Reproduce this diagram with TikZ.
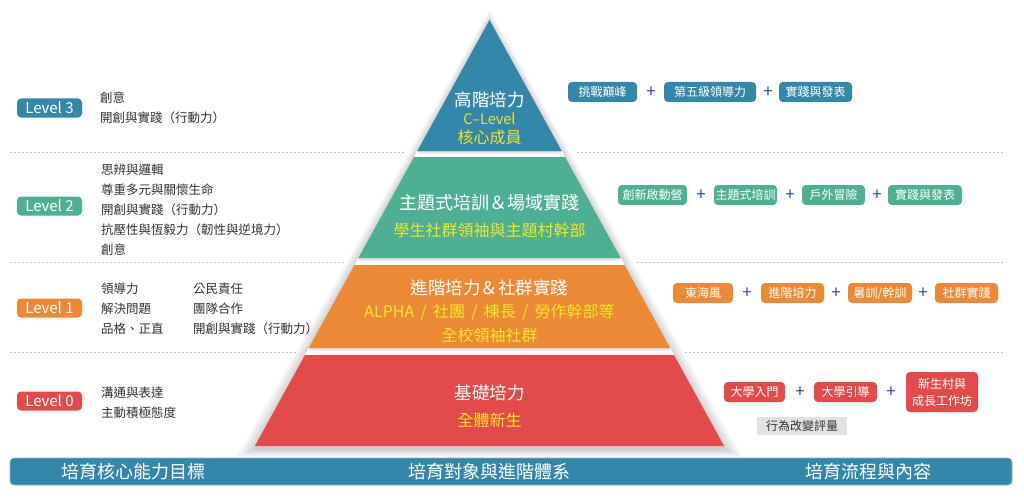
\documentclass[tikz,border=0pt]{standalone}
\usepackage{fontspec}
\setmainfont{Noto Sans CJK TC}
\definecolor{blueL}{HTML}{3487A8}
\definecolor{greenL}{HTML}{4EAF92}
\definecolor{orangeL}{HTML}{EC8936}
\definecolor{redL}{HTML}{E24A4B}
\definecolor{yellowT}{HTML}{F2E527}
\definecolor{plusC}{HTML}{2C4C9C}
\definecolor{txtC}{HTML}{333333}
\definecolor{grayBox}{HTML}{E2E2E2}
\begin{document}
\begin{tikzpicture}[x=1pt,y=-1pt,
  sep/.style={draw=black!25,line width=0.7pt,dash pattern=on 2pt off 2pt},
  gapshade/.style={top color=black!14,bottom color=white},
  badge/.style={fill=#1,rounded corners=4pt,text=white,minimum width=65pt,minimum height=19pt,inner sep=0pt,font=\fontsize{15}{16}\selectfont},
  lefttxt/.style={anchor=west,align=left,inner sep=0pt,text=txtC,font=\fontsize{12.5}{20}\selectfont},
  ttl/.style={text=white,inner sep=0pt,font=\fontsize{17.5}{20}\selectfont},
  sub/.style={text=yellowT,inner sep=0pt,font=\fontsize{16}{19}\selectfont},
  tag/.style={fill=#1,rounded corners=4pt,text=white,minimum height=20pt,inner sep=0pt,font=\fontsize{12}{15}\selectfont,align=center},
  plus/.style={text=plusC,inner sep=0pt,font=\fontsize{17}{18}\selectfont},
  bartxt/.style={text=white,inner sep=0pt,font=\fontsize{18}{20}\selectfont}]
\useasboundingbox (0,0) rectangle (1024,500);
\fill[white] (0,0) rectangle (1024,500);

% separators
\draw[sep] (10,152) -- (405,152);
\draw[sep] (577,152) -- (1005,152);
\draw[sep] (10,262) -- (345,262);
\draw[sep] (637,262) -- (1005,262);
\draw[sep] (10,352) -- (297,352);
\draw[sep] (685,352) -- (1005,352);

% soft shadow of the whole pyramid
\foreach \d in {1,...,16}{
  \fill[black,opacity=0.011] (489.5,{22-0.8*\d}) -- ({724.1+1.2*\d},{449+0.5*\d}) -- ({254.9-1.2*\d},{449+0.5*\d}) -- cycle;
}
% white gaps between layers
\fill[white] (417.3,151) -- (561.7,151) -- (565,157) -- (414,157) -- cycle;
\fill[white] (358.4,258) -- (620.6,258) -- (624.5,265) -- (354.5,265) -- cycle;
\fill[white] (308.8,348) -- (670.2,348) -- (674,355) -- (305,355) -- cycle;
\shade[gapshade] (418,151) rectangle (561,154.5);
\shade[gapshade] (359,258) rectangle (620,261.5);
\shade[gapshade] (309.5,348) rectangle (669.5,351.5);

% pyramid
\fill[redL] (305,355) -- (674,355) -- (724.1,446) -- (254.9,446) -- cycle;
\fill[orangeL] (354.5,265) -- (624.5,265) -- (670.2,348) -- (308.8,348) -- cycle;
\fill[greenL] (414,157) -- (565,157) -- (620.6,258) -- (358.4,258) -- cycle;
\fill[blueL] (489.5,20) -- (561.7,151) -- (417.3,151) -- cycle;

% pyramid texts
\node[ttl] (b1) at (489.5,100) {高階培力};
\node[sub,font=\fontsize{14.5}{17}\selectfont] (b2) at (489.5,119) {C–Level};
\node[sub] (b3) at (489.5,137) {核心成員};
\node[ttl,font=\fontsize{18}{20}\selectfont] (g1) at (489.5,203) {主題式培訓＆場域實踐};
\node[sub] (g2) at (489.5,230) {學生社群領袖與主題村幹部};
\node[ttl] (o1) at (489.5,288) {進階培力＆社群實踐};
\node[sub] (o2) at (489.5,312) {ALPHA \,/\, 社團 \,/\, 棟長 \,/\, 勞作幹部等};
\node[sub] (o3) at (489.5,335) {全校領袖社群};
\node[ttl] (r1) at (489.5,393) {基礎培力};
\node[sub] (r2) at (489.5,420) {全體新生};

% level badges
\node[badge=blueL] (L3) at (49.5,108) {Level 3};
\node[badge=greenL] (L2) at (49.5,206) {Level 2};
\node[badge=orangeL] (L1) at (49.5,308) {Level 1};
\node[badge=redL] (L0) at (49.5,401) {Level 0};

% left texts
\node[lefttxt] (c3) at (100,108) {創意\\開創與實踐（行動力）};
\node[lefttxt] (c2) at (101,209.5) {思辨與邏輯\\尊重多元與關懷生命\\開創與實踐（行動力）\\抗壓性與恆毅力（韌性與逆境力）\\創意};
\node[lefttxt] (c1a) at (101,309) {領導力\\解決問題\\品格、正直};
\node[lefttxt] (c1b) at (193,309) {公民責任\\團隊合作\\開創與實踐（行動力）};
\node[lefttxt] (c0) at (101,403) {溝通與表達\\主動積極態度};

% right tags row 3
\node[tag=blueL,minimum width=69pt] (t31) at (602.5,92) {挑戰巔峰};
\node[plus] (p31) at (651,92) {+};
\node[tag=blueL,minimum width=92pt] (t32) at (710,92) {第五級領導力};
\node[plus] (p32) at (768,92) {+};
\node[tag=blueL,minimum width=73pt] (t33) at (815.5,92) {實踐與發表};
% row 2
\node[tag=greenL,minimum width=69pt] (t21) at (652.5,195) {創新啟動營};
\node[plus] (p21) at (701,195) {+};
\node[tag=greenL,minimum width=63pt] (t22) at (745.5,195) {主題式培訓};
\node[plus] (p22) at (790,195) {+};
\node[tag=greenL,minimum width=63pt] (t23) at (833.5,195) {戶外冒險};
\node[plus] (p23) at (877,195) {+};
\node[tag=greenL,minimum width=74pt] (t24) at (925,195) {實踐與發表};
% row 1
\node[tag=orangeL,minimum width=60pt] (t11) at (703,293) {東海風};
\node[plus] (p11) at (747,293) {+};
\node[tag=orangeL,minimum width=63pt] (t12) at (792.5,293) {進階培力};
\node[plus] (p12) at (836,293) {+};
\node[tag=orangeL,minimum width=64pt] (t13) at (880,293) {暑訓/幹訓};
\node[plus] (p13) at (923,293) {+};
\node[tag=orangeL,minimum width=63pt] (t14) at (966.5,293) {社群實踐};
% row 0
\node[tag=redL,minimum width=61pt] (t01) at (754.5,392) {大學入門};
\node[plus] (p01) at (800,392) {+};
\node[tag=redL,minimum width=63pt] (t02) at (845.5,392) {大學引導};
\node[plus] (p02) at (891,392) {+};
\node[tag=redL,minimum width=72pt,minimum height=40pt,font=\fontsize{12}{17}\selectfont] (t03) at (942,392) {新生村與\\成長工作坊};
\node[fill=grayBox,text=txtC,minimum width=90pt,minimum height=18pt,inner sep=0pt,font=\fontsize{12}{15}\selectfont] (g0) at (802,426) {行為改變評量};

% bottom bar
\draw[fill=blueL,draw=blueL!60,line width=0.6pt,rounded corners=4pt] (10,458) rectangle (1012,485);
\node[bartxt] (h1) at (133,471.5) {培育核心能力目標};
\node[bartxt] (h2) at (489.5,471.5) {培育對象與進階體系};
\node[bartxt] (h3) at (868,471.5) {培育流程與內容};
\end{tikzpicture}
\end{document}
